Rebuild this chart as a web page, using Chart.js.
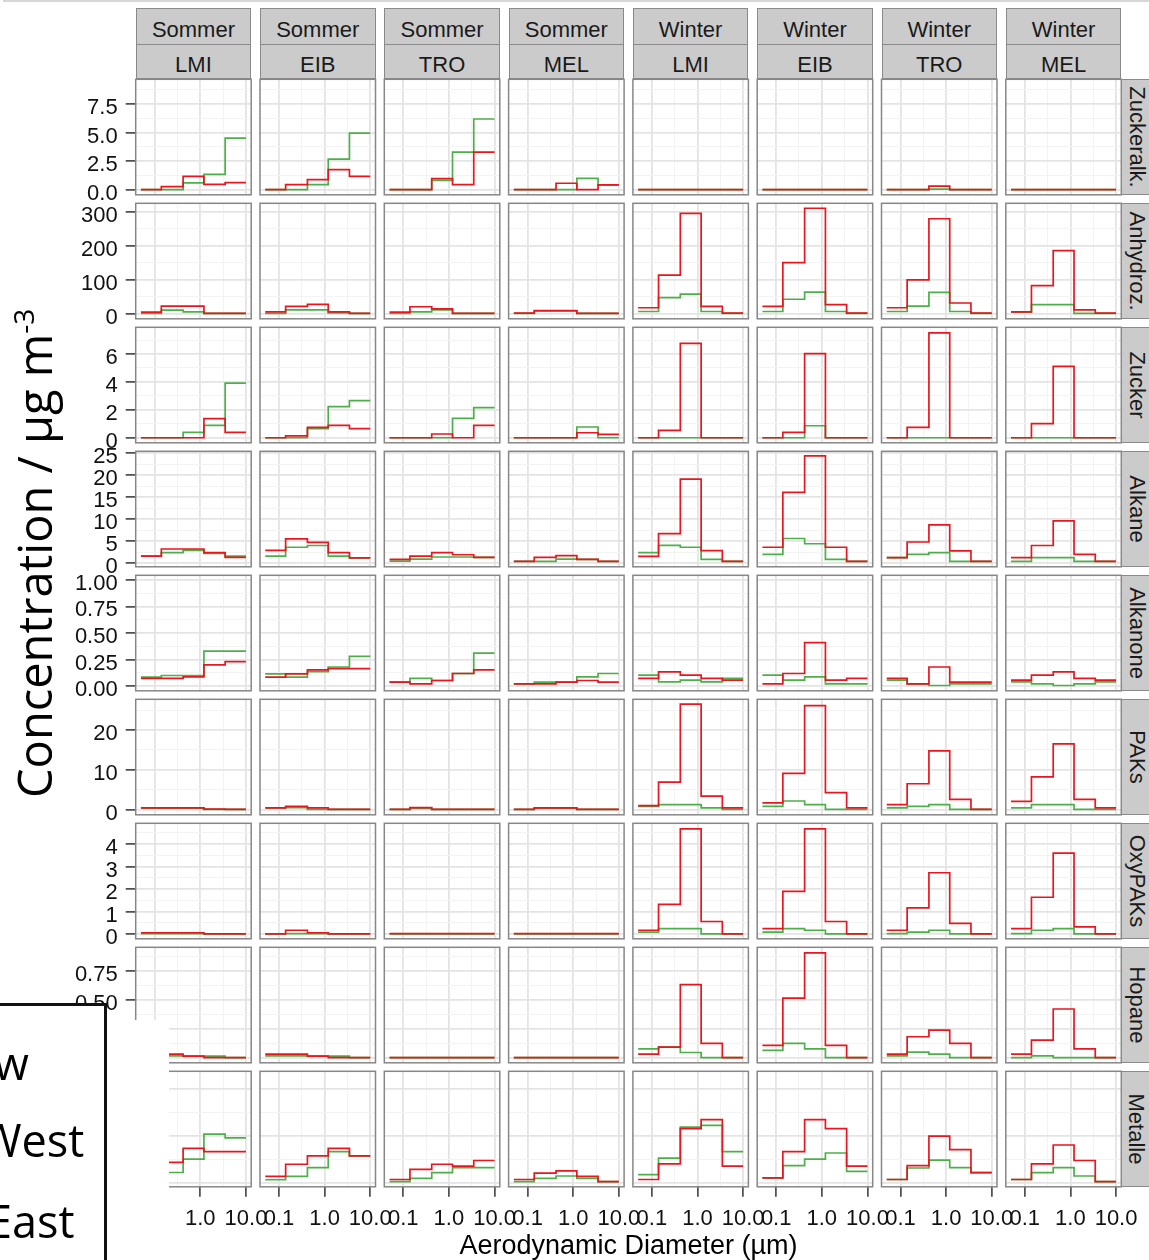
<!DOCTYPE html>
<html>
<head>
<meta charset="utf-8">
<script src="https://cdn.jsdelivr.net/npm/chart.js@4.4.1/dist/chart.umd.min.js"></script>
<style>
  html, body { margin: 0; padding: 0; background: #fff; }
  body { width: 1149px; height: 1260px; position: relative; overflow: hidden; font-family: 'Liberation Sans', Arial, sans-serif; }
  .panel { position: absolute; }
  .strip { position: absolute; box-sizing: border-box; background: #cbcbcb; border: 1.5px solid #8a8a8a; color: #1a1a1a;
           font-size: 22px; display: flex; align-items: center; justify-content: center; white-space: nowrap; }
  .strip span { flex-shrink: 0; position: relative; }
  .strip-x span { top: 4px; }
  .strip-y span { left: -3px; transform: rotate(90deg); }
  #ytitle { position: absolute; font-family: 'Open Sans', sans-serif; font-size: 47px; line-height: 47px; white-space: nowrap;
            transform-origin: left top; transform: rotate(-90deg); color: #000; }
  #ytitle .sup { font-size: 28px; position: relative; top: -18px; }
  #xtitle { position: absolute; left: 0; width: 1257px; text-align: center; font-size: 27px; line-height: 27px; color: #000; }
  .cover { position: absolute; background: #fff; }
  #legendbox { position: absolute; left: -10px; top: 1003px; width: 117px; height: 280px; box-sizing: border-box;
               border: 3px solid #111; background: #fff; }
  .legtxt { position: absolute; font-family: 'Open Sans', sans-serif; font-size: 45px; line-height: 45px; color: #000; white-space: nowrap; }
</style>
</head>
<body>
<div id="stage"></div>
<script>
// size bins of the impactor stages (µm), step lines run from bin edge to bin edge
const sizeBins = [0.05, 0.14, 0.42, 1.2, 3.5, 10];
const seasons = ['Sommer', 'Sommer', 'Sommer', 'Sommer', 'Winter', 'Winter', 'Winter', 'Winter'];
const sites = ['LMI', 'EIB', 'TRO', 'MEL', 'LMI', 'EIB', 'TRO', 'MEL'];
const compounds = ['Zuckeralk.', 'Anhydroz.', 'Zucker', 'Alkane', 'Alkanone', 'PAKs', 'OxyPAKs', 'Hopane', 'Metalle'];

const xTickValues = [0.1, 0.316, 1, 3.16, 10];
const xTickLabels = ['0.1', '', '1.0', '', '10.0'];

// y axis per row (free scales per compound)
const yMinByRow = [-0.46, -15.5, -0.36, -0.85, -0.044, -1.3, -0.21, -0.045, -0.09];
const yMaxByRow = [9.66, 324.5, 7.91, 25.46, 1.043, 27.7, 4.93, 0.953, 2.37];
const yTicksByRow = [
  [0, 2.5, 5, 7.5],
  [0, 100, 200, 300],
  [0, 2, 4, 6],
  [0, 5, 10, 15, 20, 25],
  [0, 0.25, 0.5, 0.75, 1],
  [0, 10, 20],
  [0, 1, 2, 3, 4],
  [0, 0.25, 0.5, 0.75],
  [0, 1, 2]
];
const yTickLabelsByRow = [
  ['0.0', '2.5', '5.0', '7.5'],
  ['0', '100', '200', '300'],
  ['0', '2', '4', '6'],
  ['0', '5', '10', '15', '20', '25'],
  ['0.00', '0.25', '0.50', '0.75', '1.00'],
  ['0', '10', '20'],
  ['0', '1', '2', '3', '4'],
  ['0.00', '0.25', '0.50', '0.75'],
  ['0', '1', '2']
];

// values per panel: 8 columns (Sommer LMI..MEL, Winter LMI..MEL) x 5 size bins
const zuckeralkRed = [[0, 0.25, 1.15, 0.45, 0.6], [0, 0.44, 0.87, 1.74, 1.16], [0, 0, 0.96, 0.44, 3.28], [0, 0, 0.55, 0, 0.41],
  [0, 0, 0, 0, 0], [0, 0, 0, 0, 0], [0, 0, 0.3, 0, 0], [0, 0, 0, 0, 0]];
const zuckeralkGreen = [[0, 0, 0.58, 1.33, 4.5], [0, 0, 0.44, 2.67, 4.94], [0, 0, 0.81, 3.28, 6.18], [0, 0, 0, 0.98, 0.41],
  [0, 0, 0, 0, 0], [0, 0, 0, 0, 0], [0, 0, 0.03, 0, 0], [0, 0, 0, 0, 0]];

const anhydrozRed = [[4, 22, 22, 0.5, 0.5], [5, 21, 27, 5, 0.5], [4, 20, 14, 0.5, 0.3], [1, 9, 9, 0.5, 0.3],
  [17, 113, 295, 21, 1], [21, 150, 310, 26, 1], [17, 99, 279, 31, 1], [5, 82, 185, 11, 1]];
const anhydrozGreen = [[0.5, 10, 5, 0.5, 0.3], [0.5, 11, 11, 2, 0.3], [0.5, 5, 11, 0.5, 0.3], [0.5, 7, 7, 0.3, 0.2],
  [6, 47, 57, 6, 0.5], [6, 42, 63, 6, 0.5], [6, 22, 62, 6, 0.5], [4, 26, 26, 0.5, 0.5]];

const zuckerRed = [[0, 0, 0, 1.37, 0.39], [0, 0.14, 0.75, 0.89, 0.65], [0, 0, 0.27, 0, 0.89], [0, 0, 0, 0.36, 0.24],
  [0, 0.53, 6.76, 0, 0], [0, 0.39, 6.02, 0, 0], [0, 0.75, 7.51, 0, 0], [0, 1.01, 5.11, 0, 0]];
const zuckerGreen = [[0, 0, 0.39, 0.89, 3.91], [0, 0, 0.65, 2.23, 2.66], [0, 0, 0, 1.39, 2.16], [0, 0, 0, 0.77, 0],
  [0, 0, 0, 0, 0], [0, 0, 0.86, 0, 0], [0, 0, 0, 0, 0], [0, 0, 0, 0, 0]];

const alkaneRed = [[1.6, 3.2, 3.2, 2.4, 1.3], [2.9, 5.5, 4.7, 2.4, 1.2], [0.85, 1.6, 2.37, 1.9, 1.3], [0.38, 1.3, 1.68, 0.85, 0.38],
  [1.53, 6.7, 19.1, 2.83, 0.38], [3.6, 16.1, 24.4, 3.6, 0.38], [1.22, 4.8, 8.7, 2.8, 0.38], [1.22, 4.0, 9.6, 2.0, 0.38]];
const alkaneGreen = [[1.6, 2.4, 2.9, 2.2, 1.6], [1.6, 3.6, 4.0, 1.6, 1.2], [0.46, 0.92, 1.38, 1.38, 1.3], [0.38, 0.38, 0.92, 0.85, 0.38],
  [2.37, 4.05, 3.6, 0.84, 0.38], [2.0, 5.6, 4.4, 0.84, 0.38], [1.22, 2.0, 2.37, 0.38, 0.38], [0.38, 1.22, 1.22, 0.38, 0.38]];

const alkanoneRed = [[0.072, 0.072, 0.087, 0.2, 0.23], [0.084, 0.115, 0.153, 0.165, 0.165], [0.037, 0.022, 0.053, 0.119, 0.153], [0.022, 0.022, 0.037, 0.053, 0.037],
  [0.072, 0.134, 0.103, 0.072, 0.056], [0.022, 0.119, 0.41, 0.056, 0.072], [0.072, 0.022, 0.18, 0.037, 0.037], [0.056, 0.103, 0.134, 0.072, 0.056]];
const alkanoneGreen = [[0.084, 0.1, 0.1, 0.33, 0.33], [0.115, 0.084, 0.137, 0.18, 0.28], [0.037, 0.072, 0.053, 0.119, 0.31], [0.022, 0.037, 0.037, 0.087, 0.119],
  [0.103, 0.04, 0.056, 0.04, 0.072], [0.103, 0.056, 0.087, 0.022, 0.022], [0.056, 0.022, 0.006, 0.022, 0.022], [0.04, 0.022, 0.006, 0.022, 0.04]];

const paksRed = [[0.45, 0.45, 0.45, 0.1, 0.05], [0.42, 0.83, 0.42, 0.05, 0.05], [0.08, 0.5, 0.08, 0.08, 0.08], [0.08, 0.42, 0.42, 0.08, 0.08],
  [1.0, 6.9, 26.5, 3.4, 0.42], [1.67, 9.1, 26.1, 4.25, 0.42], [1.25, 6.5, 14.75, 2.58, 0.05], [2.08, 8.2, 16.5, 2.58, 0.42]];
const paksGreen = [[0.4, 0.4, 0.4, 0.05, 0.05], [0.42, 0.5, 0.05, 0.05, 0.05], [0.05, 0.3, 0.05, 0.05, 0.05], [0.05, 0.3, 0.3, 0.05, 0.05],
  [0.83, 1.25, 1.25, 0.42, 0.05], [0.83, 2.17, 1.25, 0.05, 0.05], [0.42, 0.83, 1.25, 0.05, 0.05], [0.42, 1.25, 1.25, 0.05, 0.05]];

const oxypaksRed = [[0.06, 0.06, 0.06, 0.01, 0.01], [0.01, 0.17, 0.06, 0.01, 0.01], [0.02, 0.02, 0.02, 0.02, 0.02], [0.02, 0.02, 0.02, 0.02, 0.02],
  [0.17, 1.32, 4.68, 0.56, 0.01], [0.24, 1.9, 4.68, 0.56, 0.01], [0.17, 1.17, 2.73, 0.48, 0.01], [0.24, 1.64, 3.6, 0.32, 0.01]];
const oxypaksGreen = [[0.02, 0.02, 0.02, 0.01, 0.01], [0.01, 0.02, 0.02, 0.01, 0.01], [0.01, 0.01, 0.01, 0.01, 0.01], [0.01, 0.01, 0.01, 0.01, 0.01],
  [0.09, 0.24, 0.24, 0.01, 0.01], [0.09, 0.24, 0.17, 0.01, 0.01], [0.02, 0.09, 0.17, 0.01, 0.01], [0.02, 0.17, 0.24, 0.01, 0.01]];

const hopaneRed = [[0.03, 0.03, 0.012, 0, 0], [0.03, 0.03, 0.012, 0, 0], [0, 0, 0, 0, 0], [0, 0, 0, 0, 0],
  [0.03, 0.09, 0.63, 0.122, 0], [0.105, 0.513, 0.904, 0.105, 0], [0.03, 0.18, 0.238, 0.122, 0], [0.03, 0.151, 0.42, 0.076, 0]];
const hopaneGreen = [[0.015, 0.015, 0.012, 0.012, 0], [0.015, 0.015, 0.012, 0.012, 0], [0, 0, 0, 0, 0], [0, 0, 0, 0, 0],
  [0.076, 0.09, 0.044, 0, 0], [0.062, 0.122, 0.076, 0, 0], [0.015, 0.047, 0.03, 0, 0], [0, 0.015, 0, 0, 0]];

const metalleRed = [[0.3, 0.43, 0.73, 0.66, 0.66], [0.13, 0.39, 0.57, 0.73, 0.57], [0.065, 0.28, 0.39, 0.35, 0.47], [0.065, 0.2, 0.25, 0.13, 0.02],
  [0.065, 0.4, 1.15, 1.34, 0.35], [0.1, 0.66, 1.34, 1.15, 0.35], [0.065, 0.36, 0.99, 0.7, 0.21], [0.065, 0.4, 0.8, 0.47, 0.02]];
const metalleGreen = [[0.15, 0.215, 0.5, 1.03, 0.95], [0.06, 0.13, 0.32, 0.66, 0.57], [0.02, 0.09, 0.21, 0.32, 0.32], [0.02, 0.09, 0.14, 0.09, 0.02],
  [0.17, 0.52, 1.18, 1.22, 0.66], [0.1, 0.36, 0.5, 0.63, 0.24], [0.065, 0.31, 0.48, 0.32, 0.21], [0.065, 0.21, 0.32, 0.14, 0.02]];

const redByRow = [zuckeralkRed, anhydrozRed, zuckerRed, alkaneRed, alkanoneRed, paksRed, oxypaksRed, hopaneRed, metalleRed];
const greenByRow = [zuckeralkGreen, anhydrozGreen, zuckerGreen, alkaneGreen, alkanoneGreen, paksGreen, oxypaksGreen, hopaneGreen, metalleGreen];

// ---- layout (page pixels)
const X0 = 135.7, DX = 124.3, PW = 115.5;
const Y0 = 79.3, DY = 124, PH = 115.5;
const M = 14;
const X_MIN = 0.0384, X_MAX = 13.03;
const RED = '#E8161E', GREEN = '#4DAF4A';
const TEXT = '#111';
const FONT = { family: "'Liberation Sans', Arial, sans-serif", size: 22 };

Chart.defaults.font.family = FONT.family;

const stage = document.getElementById('stage');

const panelBorder = {
  id: 'panelBorder',
  afterDraw(chart) {
    const { ctx, chartArea: a } = chart;
    ctx.save();
    ctx.strokeStyle = '#878787';
    ctx.lineWidth = 1.5;
    ctx.strokeRect(a.left, a.top, a.right - a.left, a.bottom - a.top);
    ctx.restore();
  }
};

function stepPoints(vals) {
  const pts = vals.map((v, k) => ({ x: sizeBins[k], y: v }));
  pts.push({ x: sizeBins[sizeBins.length - 1], y: vals[vals.length - 1] });
  return pts;
}

// major ticks plus the ggplot-style minor lines half way between them
function yGrid(row) {
  const maj = yTicksByRow[row];
  const step = maj[1] - maj[0];
  const out = [];
  const lo = maj[0] - step / 2;
  if (lo >= yMinByRow[row]) out.push({ v: lo, major: false, label: '' });
  maj.forEach((v, k) => {
    out.push({ v, major: true, label: yTickLabelsByRow[row][k] });
    const mid = v + step / 2;
    if (mid <= yMaxByRow[row]) out.push({ v: mid, major: false, label: '' });
  });
  return out;
}

function makePanel(row, col) {
  const px = X0 + col * DX, py = Y0 + row * DY;
  const firstCol = col === 0, lastRow = row === compounds.length - 1;
  const cl = firstCol ? 0 : Math.floor(px) - M;
  const ct = Math.floor(py) - M;
  const cr = Math.ceil(px + PW) + (lastRow ? 28 : M);
  const cb = lastRow ? 1260 : Math.ceil(py + PH) + M;

  const yAxisW = firstCol ? px - cl : 0;
  const xAxisH = lastRow ? cb - (py + PH) : 0;

  const box = document.createElement('div');
  box.className = 'panel';
  box.style.left = cl + 'px';
  box.style.top = ct + 'px';
  box.style.width = (cr - cl) + 'px';
  box.style.height = (cb - ct) + 'px';
  const cv = document.createElement('canvas');
  box.appendChild(cv);
  stage.appendChild(box);

  const grid = yGrid(row);

  new Chart(cv, {
    type: 'line',
    data: {
      datasets: [{
        label: 'rot',
        data: stepPoints(redByRow[row][col]),
        borderColor: RED,
        borderWidth: 1.7,
        stepped: 'before',
        pointRadius: 0,
        fill: false,
        order: 0
      }, {
        label: 'grün',
        data: stepPoints(greenByRow[row][col]),
        borderColor: GREEN,
        borderWidth: 1.7,
        stepped: 'before',
        pointRadius: 0,
        fill: false,
        order: 1
      }]
    },
    options: {
      responsive: true,
      maintainAspectRatio: false,
      animation: false,
      events: [],
      layout: {
        padding: {
          left: firstCol ? 0 : px - cl,
          top: py - ct,
          right: cr - (px + PW),
          bottom: lastRow ? 0 : cb - (py + PH)
        }
      },
      plugins: { legend: { display: false }, tooltip: { enabled: false } },
      scales: {
        x: {
          type: 'logarithmic',
          min: X_MIN,
          max: X_MAX,
          afterBuildTicks: (s) => { s.ticks = xTickValues.map(v => ({ value: v })); },
          afterFit: (s) => { s.height = xAxisH; s.paddingLeft = 0; s.paddingRight = 0; },
          border: { display: false },
          ticks: {
            display: lastRow, autoSkip: false, maxRotation: 0, padding: 9,
            font: FONT, color: TEXT,
            callback: (v, k) => xTickLabels[k]
          },
          grid: {
            color: (c) => xTickLabels[c.index] ? '#E4E4E4' : '#F3F3F3',
            lineWidth: (c) => xTickLabels[c.index] ? 1.8 : 1,
            drawTicks: lastRow,
            tickLength: 10,
            tickWidth: 1.5,
            tickColor: (c) => xTickLabels[c.index] ? '#333' : 'rgba(0,0,0,0)'
          }
        },
        y: {
          min: yMinByRow[row],
          max: yMaxByRow[row],
          afterBuildTicks: (s) => { s.ticks = grid.map(g => ({ value: g.v })); },
          afterFit: (s) => { s.width = yAxisW; s.paddingTop = 0; s.paddingBottom = 0; },
          border: { display: false },
          ticks: {
            display: firstCol, autoSkip: false, padding: 8, labelOffset: 4,
            font: FONT, color: TEXT,
            callback: (v, k) => grid[k].label
          },
          grid: {
            color: (c) => grid[c.index] && grid[c.index].major ? '#E4E4E4' : '#F3F3F3',
            lineWidth: (c) => grid[c.index] && grid[c.index].major ? 1.8 : 1,
            drawTicks: firstCol,
            tickLength: 10,
            tickWidth: 1.5,
            tickColor: (c) => grid[c.index] && grid[c.index].major ? '#333' : 'rgba(0,0,0,0)'
          }
        }
      }
    },
    plugins: [panelBorder]
  });
}

function addStrip(cls, left, top, w, h, text) {
  const d = document.createElement('div');
  d.className = 'strip ' + cls;
  d.style.left = left + 'px';
  d.style.top = top + 'px';
  d.style.width = w + 'px';
  d.style.height = h + 'px';
  const s = document.createElement('span');
  s.textContent = text;
  d.appendChild(s);
  stage.appendChild(d);
}

for (let col = 0; col < seasons.length; col++) {
  const px = X0 + col * DX;
  addStrip('strip-x', px, 7.5, PW, 37.5, seasons[col]);
  addStrip('strip-x', px, 43.5, PW, Y0 - 43.5, sites[col]);
}
for (let row = 0; row < compounds.length; row++) {
  for (let col = 0; col < seasons.length; col++) makePanel(row, col);
  addStrip('strip-y', X0 + 7 * DX + PW - 0.5, Y0 + row * DY, 38, PH, compounds[row]);
}
</script>

<div id="xtitle" style="top:1232px">Aerodynamic Diameter (µm)</div>
<div id="ytitle" style="left:11px; top:798px">Concentration / µg m<span class="sup">-3</span></div>

<div style="position:absolute; left:3px; top:0; width:1146px; height:2px; background:#d6d6d6"></div>
<div class="cover" style="left:0; top:1020px; width:169px; height:240px"></div>
<div id="legendbox"></div>
<div class="legtxt" style="left:-6px; top:1040px">w</div>
<div class="legtxt" style="left:-20px; top:1117px">West</div>
<div class="legtxt" style="left:-13px; top:1198px">East</div>
</body>
</html>
